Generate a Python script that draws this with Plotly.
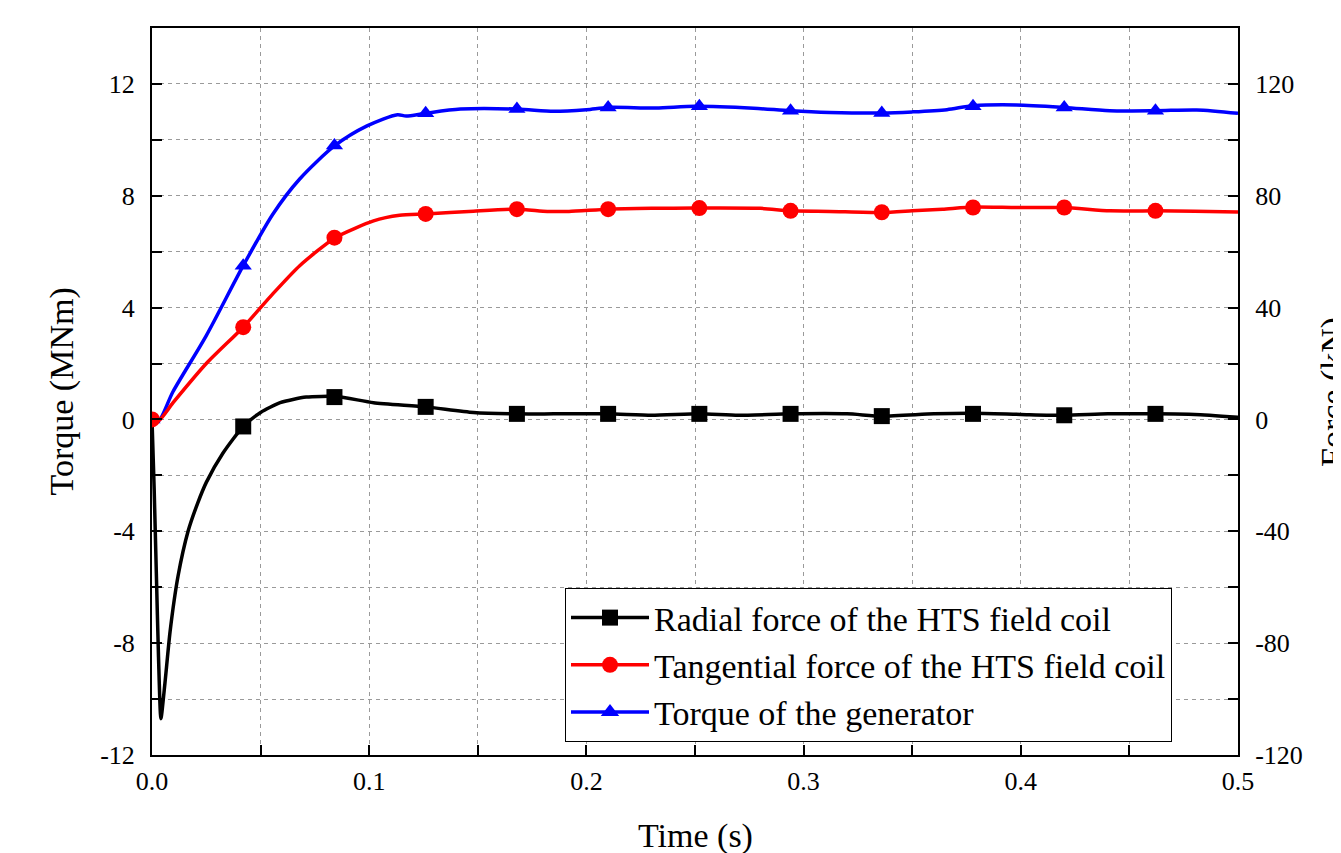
import plotly.graph_objects as go

# ---------------- data ----------------
# Radial force of the HTS field coil (kN), right axis
radial_t = [0, 0.001, 0.002, 0.003, 0.0041, 0.006, 0.0083, 0.012, 0.0166, 0.021, 0.025,
            0.0327, 0.042, 0.05, 0.059, 0.071, 0.085, 0.102, 0.126, 0.148, 0.168, 0.185,
            0.21, 0.23, 0.252, 0.27, 0.294, 0.32, 0.336, 0.36, 0.378, 0.40, 0.42, 0.44,
            0.462, 0.48, 0.5]
radial_kN = [0, -25, -55, -85, -107, -94, -76, -56, -40, -30, -22.5,
             -12, -2.5, 2.5, 6, 8, 8.2, 6, 4.5, 2.5, 2, 2,
             2, 1.5, 2, 1.5, 2, 2, 1.2, 2, 2.2, 1.8, 1.5, 2,
             2, 1.8, 0.8]

# Tangential force of the HTS field coil (kN), right axis
tang_t = [0, 0.003, 0.0097, 0.025, 0.042, 0.0557, 0.068, 0.0843, 0.102, 0.114, 0.126,
          0.148, 0.168, 0.182, 0.192, 0.21, 0.23, 0.25, 0.28, 0.294, 0.312, 0.336, 0.35,
          0.364, 0.378, 0.398, 0.42, 0.441, 0.462, 0.48, 0.5]
tang_kN = [0, -0.5, 6, 20, 33, 45, 55, 65, 71, 73, 73.5,
           74.5, 75.2, 74.4, 74.4, 75.2, 75.5, 75.6, 75.5, 74.6, 74.4, 74.0, 74.6,
           75.2, 76.0, 75.8, 75.8, 74.6, 74.6, 74.5, 74.2]

# Torque of the generator (MNm), left axis
torque_t = [0, 0.003, 0.0097, 0.025, 0.042, 0.0557, 0.068, 0.0843, 0.099, 0.113, 0.117,
            0.126, 0.142, 0.168, 0.185, 0.2, 0.21, 0.232, 0.25, 0.277, 0.294, 0.312,
            0.336, 0.35, 0.366, 0.378, 0.398, 0.42, 0.441, 0.462, 0.481, 0.5]
torque_MNm = [0, -0.05, 1.0, 3.0, 5.5, 7.35, 8.6, 9.8, 10.5, 10.9, 10.85,
              10.95, 11.1, 11.1, 11.02, 11.08, 11.16, 11.14, 11.2, 11.13, 11.04, 10.98,
              10.96, 11.0, 11.08, 11.22, 11.25, 11.16, 11.04, 11.04, 11.07, 10.95]

# marker positions
mark_t = [0, 0.042, 0.084, 0.126, 0.168, 0.21, 0.252, 0.294, 0.336, 0.378, 0.42, 0.462]
radial_mark_t = mark_t[1:]
radial_mark_kN = [-2.5, 8, 4.5, 2, 2, 2, 2, 1.2, 2, 1.5, 2]
tang_mark_kN = [0, 33, 65, 73.5, 75.2, 75.2, 75.6, 74.6, 74.1, 75.8, 75.8, 74.6]
torque_mark_MNm = [0, 5.5, 9.8, 10.95, 11.1, 11.16, 11.2, 11.04, 10.96, 11.2, 11.16, 11.04]

series_names = ["Radial force of the HTS field coil",
                "Tangential force of the HTS field coil",
                "Torque of the generator"]

x_tickvals = [0, 0.05, 0.1, 0.15, 0.2, 0.25, 0.3, 0.35, 0.4, 0.45, 0.5]
x_ticktext = ["0.0", "", "0.1", "", "0.2", "", "0.3", "", "0.4", "", "0.5"]
y_tickvals = [-12, -10, -8, -6, -4, -2, 0, 2, 4, 6, 8, 10, 12]
y_ticktext = ["-12", "", "-8", "", "-4", "", "0", "", "4", "", "8", "", "12"]
y2_tickvals = [-120, -100, -80, -60, -40, -20, 0, 20, 40, 60, 80, 100, 120]
y2_ticktext = ["-120", "", "-80", "", "-40", "", "0", "", "40", "", "80", "", "120"]

FONT = "Liberation Serif, Times New Roman, serif"
BLACK, RED, BLUE = "#000000", "#ff0000", "#0000ff"
LW = 3.5

fig = go.Figure()

# radial
fig.add_trace(go.Scatter(x=radial_t, y=radial_kN, yaxis="y2", mode="lines",
                         line=dict(color=BLACK, width=LW, shape="spline", smoothing=0.6),
                         showlegend=False, hoverinfo="skip"))
fig.add_trace(go.Scatter(x=radial_mark_t, y=radial_mark_kN, yaxis="y2", mode="markers",
                         marker=dict(symbol="square", size=16, color=BLACK),
                         showlegend=False))
# tangential
fig.add_trace(go.Scatter(x=tang_t, y=tang_kN, yaxis="y2", mode="lines",
                         line=dict(color=RED, width=LW, shape="spline", smoothing=0.6),
                         showlegend=False, hoverinfo="skip"))
fig.add_trace(go.Scatter(x=mark_t, y=tang_mark_kN, yaxis="y2", mode="markers",
                         marker=dict(symbol="circle", size=16, color=RED),
                         showlegend=False))
# torque
fig.add_trace(go.Scatter(x=torque_t, y=torque_MNm, mode="lines",
                         line=dict(color=BLUE, width=LW, shape="spline", smoothing=0.8),
                         showlegend=False, hoverinfo="skip"))
fig.add_trace(go.Scatter(x=mark_t, y=torque_mark_MNm, mode="markers",
                         marker=dict(symbol="triangle-up", size=15, color=BLUE),
                         showlegend=False))

# legend entries
for name, col, sym in zip(series_names, [BLACK, RED, BLUE], ["square", "circle", "triangle-up"]):
    fig.add_trace(go.Scatter(x=[None], y=[None], mode="lines+markers", name=name,
                             line=dict(color=col, width=LW),
                             marker=dict(symbol=sym, size=16, color=col)))

axis_common = dict(showline=True, linecolor="black", linewidth=2,
                   ticks="inside", ticklen=10, tickwidth=2, tickcolor="black",
                   tickfont=dict(family=FONT, size=26, color="black"), zeroline=False)

# page body has an 8px margin: figure is offset by 8px
fig.update_layout(
    width=1333, height=845,
    margin=dict(l=144, r=103, t=20, b=98),
    paper_bgcolor="white", plot_bgcolor="white",
    font=dict(family=FONT, color="black"),
    xaxis=dict(range=[0, 0.5], tickmode="array", tickvals=x_tickvals, ticktext=x_ticktext,
               showgrid=True, gridcolor="#9a9a9a", gridwidth=1, griddash="4px,4px",
               mirror=True, ticklabelstandoff=2, **axis_common),
    yaxis=dict(range=[-12, 14], tickmode="array", tickvals=y_tickvals, ticktext=y_ticktext,
               showgrid=True, gridcolor="#9a9a9a", gridwidth=1, griddash="4px,4px",
               mirror=True, ticklabelstandoff=10, **axis_common),
    yaxis2=dict(range=[-120, 140], overlaying="y", side="right",
                tickmode="array", tickvals=y2_tickvals, ticktext=y2_ticktext,
                showgrid=False, ticklabelstandoff=10, **axis_common),
    legend=dict(x=0.3803, y=0.2297, xanchor="left", yanchor="top",
                bgcolor="white", bordercolor="black", borderwidth=1,
                font=dict(family=FONT, size=34, color="black"),
                itemwidth=78, tracegroupgap=0),
    annotations=[
        dict(text="Torque (MNm)", xref="paper", yref="paper", x=-0.0829, y=0.5,
             xanchor="center", yanchor="middle", textangle=-90, showarrow=False,
             font=dict(family=FONT, size=34, color="black")),
        dict(text="Force (kN)", xref="paper", yref="paper", x=1.087, y=0.5,
             xanchor="center", yanchor="middle", textangle=-90, showarrow=False,
             font=dict(family=FONT, size=34, color="black")),
        dict(text="Time (s)", xref="paper", yref="paper", x=0.5, y=-0.1114,
             xanchor="center", yanchor="middle", showarrow=False,
             font=dict(family=FONT, size=34, color="black")),
    ],
)

fig.write_html("out.html")
